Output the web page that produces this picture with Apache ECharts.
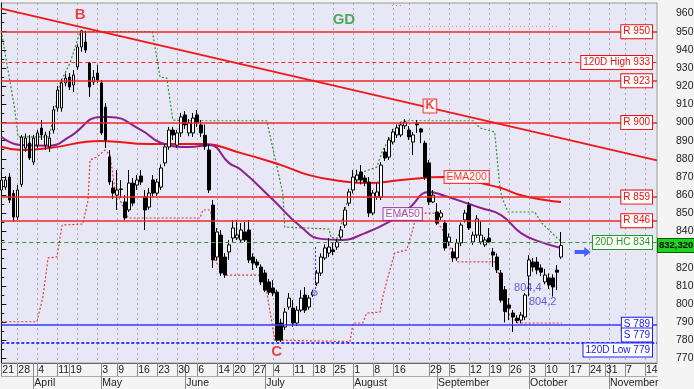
<!DOCTYPE html>
<html><head><meta charset="utf-8">
<script src="https://cdn.jsdelivr.net/npm/echarts/dist/echarts.min.js"></script>
<style>html,body{margin:0;padding:0;background:#f4f4f4;}#c{width:694px;height:389px;}</style>
</head><body><div id="c"></div>
<script>
const FONT = '"Liberation Sans",Arial,sans-serif';
const FONT_B = '"Liberation Sans",Arial,sans-serif';
const categoryCount = 165;
// [open, close, low, high]
const ohlc = [
[862.9,868.4,861.2,872.2],[864.5,868.4,863,870.5],[870,857.4,855.7,872.2],[861,848,845.3,862.9],[848,862.9,846.4,865.6],
[866,892,864.5,893.2],[886,891.5,884,894],[888.8,880.5,879.4,893.2],[878.3,891.5,876.6,893.2],[887.6,894.3,886,896],
[897,893.2,890.4,901.4],[887.6,893.2,885,895],[886.6,891.5,883.8,895.4],[895.9,907,894,909.1],[908,917.9,906,920.1],
[908,921.8,906,924],[921.8,924.5,920,927],[925,919.6,917.9,927.3],[920.7,926.2,916.8,928.9],[930.6,941.6,929,943],
[941.6,950.5,939,951],[944.3,939.9,938.3,950.5],[932.8,919.6,914.1,933.3],[922.3,925,920.7,928.9],[927.3,923.4,921.8,931.7],
[921.8,894.3,893.2,923.4],[908.5,890.4,886,910.7],[881.1,867.3,865.6,884.9],[864,861.2,858,868],[860.1,862.9,851.9,873.9],
[863.5,863.2,858.5,868.4],[856.3,847.5,846.4,860],[851.9,866.7,850.8,873.9],[866.7,855.7,854,869.5],[865.6,868.4,862.9,871.1],
[870.6,867.3,865.6,873.9],[859.1,851.9,840.9,862.9],[853.5,861.2,852,864],[868.4,861.2,859,871.1],[861.2,867.3,859.6,869],
[864.5,875,862.9,877],[877.8,886.6,876,888],[886.6,895.9,885,897.6],[895.9,893.2,890.4,897.6],[887.6,894.3,886,896],
[894.3,903.1,892,905.3],[904.2,898.7,896.5,906.3],[894.3,899.8,892.5,902],[894.3,902.5,892.1,905.3],[904.2,899.8,897.6,906.9],
[898.7,894.3,892,901.4],[893,887,885,899],[884.9,862.9,861.2,888],[854.6,824.4,820,857.4],[826,839.8,824,842],
[838.1,817.2,815.6,840.9],[826,816.1,814.5,828.2],[828.8,832.7,824.4,835.4],[836.5,842,834.3,846.4],[836.5,838.1,835.4,846.4],
[835.4,840.9,833.8,844.7],[839.8,835.4,834.3,845.3],[840.9,824.4,822.7,846.4],[826,822.7,818.9,828],[823.3,821.6,820,825],
[820.5,812.3,810.6,822],[817.2,807.8,806.7,819],[812.3,806.7,805.1,814],[809,806.2,804.5,813.3],[806.7,780.3,779.2,808],
[789.7,780.3,779.2,792],[787.5,795.7,785.8,798],[798.5,803.4,797,806.2],[797.9,789.7,787.5,802.3],[789.7,796.8,788,799],
[796.8,803.4,795.7,807.8],[805.1,796.8,795.2,809.5],[798.5,803.4,797,805],[805.1,806.7,804,808],[811.7,817.2,810,819],
[817.2,826,815.6,828],[825.5,831,824.4,833],[828.2,831.5,826,836.5],[829.9,829,827,834],[831.5,834.3,830,836],
[837,840.9,835.4,843],[843.6,851.9,842,853.5],[855.7,861.8,854,863.5],[862.9,870,861,873.9],[868.4,871.1,867,874],
[872.8,868.4,866,876.6],[869.5,867.3,865,871],[867.3,850.2,848,870],[850.2,861.2,849,862.9],[859,861.8,857.5,866.7],
[859,876.6,857.4,878.3],[883.8,880.5,878.8,886],[881,890.4,879.4,892],[889.3,894.8,888,896.5],[893.2,897.1,891.5,899],
[893.2,898.7,892,900.3],[898.2,900.3,896.5,902],[895.9,892.1,890.4,898.1],[889.3,893.2,882.1,894.8],[899.8,898.7,894.3,901.4],
[896.5,894.8,888.7,897.1],[888.7,870,868.4,890],[877.8,856.3,854.6,879.4],[856.3,860.1,855.7,862.9],[850.8,844.7,843.6,855.7],
[848,850.2,846.4,851.9],[844.7,831,829.5,846.4],[834.3,837,832,839],[828.8,825.5,823.3,831],[825.5,833.8,824,836],
[833.8,843.6,832,845],[846.4,850.2,845,852],[854.6,842,840.9,856.3],[834.3,838.1,832.7,840],[838.1,847,836.5,849],
[834.3,838.1,833,846],[832.7,835.4,831.5,837],[836.5,834.3,833.8,842],[828.8,827.1,820.5,831],[826,818.9,817.2,828],
[817.2,802.3,801,818.9],[808,796,790,810],[799.6,797.9,791.3,803.4],[795.2,793,784.7,796.8],[792.4,791,789.7,794],
[791.3,794.1,789.5,795.7],[793,805.1,791.3,806.2],[815.6,824.4,804.4,827],[823.3,820.5,818,825.5],[823.3,818.9,816.5,826],
[820,817.7,815.5,822],[812.3,816.1,811,819.5],[814.5,810.6,808.5,817],[814.5,809.5,804.2,816.5],[818.8,817.7,807.8,821.6],
[826,832.32,825,839.8]
];
const ema200 = [[0,886.7],[5,884.9],[12,886],[25,889.9],[37,888.2],[50,888.2],[60,883.2],[70,876.6],[77,871.1],[85,867.8],[92,866.7],[100,868.4],[111,870],[116,869.6],[120,866.7],[125,864],[130,860],[136,857.4],[140,856.3]];
const ema50 = [[0,892.2],[5,887.6],[12,887.3],[17,892.1],[25,903.1],[27,903.1],[35,895.9],[40,888.8],[47,886.6],[52,887.6],[57,877.7],[60,873.9],[68,857.4],[75,842.5],[80,836],[85,835.4],[91,839.2],[97,845.3],[102,853],[107,861.8],[111,859.6],[117,855.2],[120,853],[125,849.1],[130,839.2],[135,834.2],[140,831]];
const high20 = [[0,950.4],[3.4,906.9],[4.2,892.1],[11.7,892.1],[12.2,894.3],[13.4,906.9],[14.7,921.8],[17.2,932.8],[19.7,950],[37.8,950],[39.7,925.1],[41.4,924.5],[42.9,901.4],[44.7,901],[66.4,901],[70.4,861.2],[70.9,842.5],[71,841.4],[82,841.4],[82.5,836.5],[84.2,836.5],[85.9,852],[87.2,861.2],[88.4,870],[90.4,872.8],[93.9,875.5],[95.4,884.9],[97.2,891.5],[98.4,894.8],[99.7,899.8],[100.4,901],[118,901],[119.7,897],[123.4,894.8],[124.7,864.5],[125.2,859],[126.7,850.8],[133.4,850.8],[135.2,844.7],[139,836.5],[140.2,834.3]];
const low20 = [[0,790.4],[8.9,790.4],[10.4,804],[11.7,825.5],[13.9,826],[15.2,843.6],[20.4,844.2],[21.7,857.4],[22.2,879.4],[23.9,881],[25.9,884.9],[27.2,882.1],[28.4,863.8],[31.7,847.5],[49.7,847.5],[50.4,851.9],[52.2,851.9],[52.9,847.5],[53.4,824.4],[55.9,816.1],[64.7,816.1],[65.2,814.5],[66.4,806.7],[68.4,780.3],[68.6,779.5],[87.2,779.5],[88,789.7],[90.4,789.7],[91.4,795.2],[94.7,795.7],[95.4,804],[96.7,815],[98.4,828.2],[101.4,829.9],[102.9,840.9],[103.9,850.2],[108.4,850.2],[109.2,844.7],[110.9,839.2],[112.9,828.2],[114.2,823.3],[123.4,823.3],[124.7,814.5],[125.9,796.9],[127.9,792.5],[129.2,789.7],[140.2,789.7]];
const levels = [
  {name:'R 950', value:950, kind:'R'},
  {name:'120D High 933', value:933, kind:'H'},
  {name:'R 923', value:923, kind:'R'},
  {name:'R 900', value:900, kind:'R'},
  {name:'R 859', value:859, kind:'R'},
  {name:'R 846', value:846, kind:'R'},
  {name:'20D HC 834', value:834, kind:'G'},
  {name:'S 789', value:789, kind:'S'},
  {name:'S 779', value:779, kind:'L'},
  {name:'120D Low 779', value:779, kind:'L2'}
];
const trendLine = [[0,962.7],[164,879.2]];
const lastPrice = 832.32;
const dayTicks = [[0,'21'],[4,'28'],[9,'4'],[14,'11'],[17,'19'],[25,'3'],[29,'9'],[34,'16'],[39,'23'],[44,'30'],[49,'6'],[54,'14'],[58,'20'],[63,'27'],[68,'4'],[73,'11'],[78,'18'],[83,'25'],[88,'1'],[93,'8'],[98,'16'],[107,'29'],[112,'5'],[117,'12'],[122,'19'],[127,'26'],[132,'3'],[136,'10'],[142,'17'],[147,'24'],[151,'31'],[156,'7'],[161,'14']];
const monthTicks = [[8,'April'],[25,'May'],[46,'June'],[66,'July'],[88,'August'],[109,'September'],[132,'October'],[152,'November']];
const gridDays = [4,9,14,19,24,29,34,39,44,49,54,59,63,68,73,78,83,88,93,98,102,107,112,117,122,127,132,137,142,147,152,156,161];
const notes = [
  {text:'B', at:[19.7,959.2], style:'big', color:'#ee1c1c'},
  {text:'GD', at:[85.7,956.4], style:'big', color:'#2a9a2a'},
  {text:'C', at:[68.9,773.7], style:'big', color:'#ee1c1c'},
  {text:'K', at:[107.2,909.1], style:'box', color:'#ee1c1c'},
  {text:'804,4', at:[131.7,809], style:'small', color:'#3a3ae0'},
  {text:'804,2', at:[135.4,801.3], style:'small', color:'#3a3ae0'}
];
const emaTags = [{text:'EMA50', at:[100.4,849.7], color:'#952895'},{text:'EMA200', at:[116.4,870.05], color:'#e81818'}];
const arrowAt = [145.4,828.8];
const signalLine = [[78.4,831.5],[78.4,806.2]];
const signalDot = [78.4,806.2];
const topDotted = [[[99.7,953.1],[139,953.1]],[[97.7,964.7],[100,964.7]]];

const categories = Array.from({length: categoryCount}, (_, i) => String(i));
const dayMap = Object.fromEntries(dayTicks);
const monthMap = Object.fromEntries(monthTicks);
const gridSet = new Set(gridDays);
const tickSet = new Set(dayTicks.map(d => d[0]).concat(monthTicks.map(m => m[0])));
const monthSet = new Set(monthTicks.map(m => m[0]));

const G = {left:1.3, right:37, top:3, bottom:26};
const styleOf = {
  R:{c:'#f02828', t:'solid', w:1.5, lc:'#e81010'},
  H:{c:'#f02828', t:[4,3], w:1, lc:'#e81010'},
  G:{c:'#2f9a2f', t:[4,3], w:1, lc:'#1e9a1e'},
  S:{c:'#3838ff', t:'solid', w:1.5, lc:'#2020ee'},
  L:{c:'#3838ff', t:[3,2], w:2, lc:'#2020ee'},
  L2:{c:'#3838ff', t:'solid', w:1, lc:'#2020ee', hide:true}
};
function boxLabel(color, pos, dist){
  return {show:true, position:pos, distance:dist, formatter:'{b}', color:color, backgroundColor:'#fff',
    borderColor:color, borderWidth:1, padding:[1,2,1,2], fontFamily:FONT, fontSize:10, lineHeight:11};
}
const levelLines = levels.map(l => {
  const s = styleOf[l.kind];
  const pos = l.kind === 'L' ? 'insideEndTop' : (l.kind === 'L2' ? 'insideEndBottom' : 'insideEnd');
  return {name:l.name, yAxis:l.value,
    lineStyle:{color: s.hide ? 'rgba(0,0,0,0)' : s.c, type:s.t, width:s.w},
    label: boxLabel(s.lc, pos, [5, 1])};
});
const markLines = levelLines.concat([
  [{coord:trendLine[0]},{coord:trendLine[1], lineStyle:{color:'#f01818', width:2, type:'solid'}, label:{show:false}}],
  [{coord:signalLine[0]},{coord:signalLine[1], lineStyle:{color:'#3030ff', width:1, type:[2,2]}, label:{show:false}}],
  ...topDotted.map(seg => [{coord:seg[0]},{coord:seg[1], lineStyle:{color:'#e07a7a', width:1, type:[1,3]}, label:{show:false}}]),
  {name:'832,320', yAxis:lastPrice, lineStyle:{color:'rgba(0,0,0,0)'}, label:{show:true, position:'end', distance:1, formatter:'{b}',
    color:'#000', backgroundColor:'#1ed21e', borderColor:'#0a5a0a', borderWidth:1, padding:[1,1,1,1], fontFamily:FONT, fontSize:9.5, fontWeight:'bold', lineHeight:11}}
]);

const noteData = notes.map(n => {
  let label;
  if (n.style === 'big') label = {show:true, position:'inside', formatter:n.text, color:n.color, fontFamily:FONT_B, fontWeight:'bold', fontSize:15};
  else if (n.style === 'box') label = {show:true, position:'inside', formatter:n.text, color:n.color, fontFamily:FONT_B, fontWeight:'bold', fontSize:12, backgroundColor:'#fff', borderColor:n.color, borderWidth:1, padding:[1,2,0,2]};
  else label = {show:true, position:'inside', formatter:n.text, color:n.color, fontFamily:FONT, fontSize:11};
  return {value:n.at, symbolSize:0, label};
}).concat(emaTags.map(t => ({value:t.at, symbolSize:0, label:{show:true, position:'inside', formatter:t.text, color:t.color, fontFamily:FONT, fontSize:10.5, lineHeight:11, backgroundColor:'#fff', borderColor:t.color, borderWidth:1, padding:[1,2,0,2]}})))
.concat([
  {value:arrowAt, symbol:'path://M0,3 L9,3 L9,0 L15,5 L9,10 L9,7 L0,7 Z', symbolSize:[16,10], itemStyle:{color:'#1f3dff'}, label:{show:false}},
  {value:signalDot, symbol:'circle', symbolSize:5, itemStyle:{color:'#c8c8e8', borderColor:'#4a4ac8', borderWidth:1}, label:{show:false}}
]);

const chart = echarts.init(document.getElementById('c'));
chart.setOption({
  animation:false,
  backgroundColor:'#f4f4f4',
  grid:[
    Object.assign({show:true, backgroundColor:'#e7e7f6', borderColor:'#9a9a9a', borderWidth:1, outerBoundsMode:'none'}, G),
    {left:G.left, right:G.right, top:13.54, bottom:30.4, show:false, outerBoundsMode:'none'}
  ],
  xAxis:[
    {type:'category', gridIndex:0, data:categories, boundaryGap:false, position:'bottom',
      axisLine:{lineStyle:{color:'#666'}},
      axisTick:{show:true, interval:(i) => tickSet.has(i), length:13, lineStyle:{color:'#8a8a8a'}},
      axisLabel:{interval:(i) => dayMap[i] !== undefined, formatter:(v, i) => dayMap[i] || '', align:'left', padding:[0,0,0,1], margin:2,
        fontFamily:FONT, fontSize:10.5, color:'#222'},
      splitLine:{show:true, interval:(i) => gridSet.has(i), lineStyle:{color:'#a9a9bb', type:[2,3], width:1}}},
    {type:'category', gridIndex:0, data:categories, boundaryGap:false, position:'bottom', offset:13,
      axisLine:{show:true, lineStyle:{color:'#aaa'}},
      axisTick:{show:true, interval:(i) => monthSet.has(i), length:13, lineStyle:{color:'#8a8a8a'}},
      axisLabel:{interval:(i) => monthMap[i] !== undefined, formatter:(v, i) => monthMap[i] || '', align:'left', padding:[0,0,0,1], margin:2,
        fontFamily:FONT, fontSize:10.5, color:'#222'},
      splitLine:{show:false}},
    {type:'value', gridIndex:0, min:0, max:categoryCount - 1, show:false},
    {type:'value', gridIndex:1, min:0, max:1, show:false}
  ],
  yAxis:[
    {type:'value', gridIndex:0, position:'right', min:767.7, max:965.8, scale:true,
      axisLine:{show:true, lineStyle:{color:'#111'}}, axisTick:{show:false}, axisLabel:{show:false}, splitLine:{show:false}},
    {type:'value', gridIndex:1, position:'right', min:770, max:960, interval:10,
      axisLine:{show:false}, axisTick:{show:true, length:5, lineStyle:{color:'#111'}},
      minorTick:{show:true, splitNumber:2, length:3, lineStyle:{color:'#111'}},
      axisLabel:{margin:19, fontFamily:FONT, fontSize:10.5, color:'#222'}, splitLine:{show:false}}
  ],
  series:[
    {type:'line', name:'EMA200', xAxisIndex:2, yAxisIndex:0, data:ema200, smooth:true, symbol:'none', z:3, clip:false,
      lineStyle:{color:'#ee1414', width:2},
      markLine:{silent:true, symbol:['none','none'], animation:false, data:markLines}},
    {type:'line', name:'EMA50', xAxisIndex:2, yAxisIndex:0, data:ema50, smooth:true, symbol:'none', z:3,
      lineStyle:{color:'#8e1f8e', width:2}},
    {type:'line', name:'High20', xAxisIndex:2, yAxisIndex:0, data:high20, symbol:'none', z:2,
      lineStyle:{color:'#2f8f2f', width:1.2, type:[2,2]}},
    {type:'line', name:'Low20', xAxisIndex:2, yAxisIndex:0, data:low20, symbol:'none', z:2,
      lineStyle:{color:'#dc3c3c', width:1.2, type:[2,2]}},
    {type:'candlestick', xAxisIndex:0, yAxisIndex:0, data:ohlc, barWidth:3, z:4,
      itemStyle:{color:'#ffffff', color0:'#000000', borderColor:'#000000', borderColor0:'#000000', borderColorDoji:'#000', borderWidth:1}},
    {type:'scatter', xAxisIndex:2, yAxisIndex:0, data:noteData, z:6, silent:true}
  ]
});
</script></body></html>
